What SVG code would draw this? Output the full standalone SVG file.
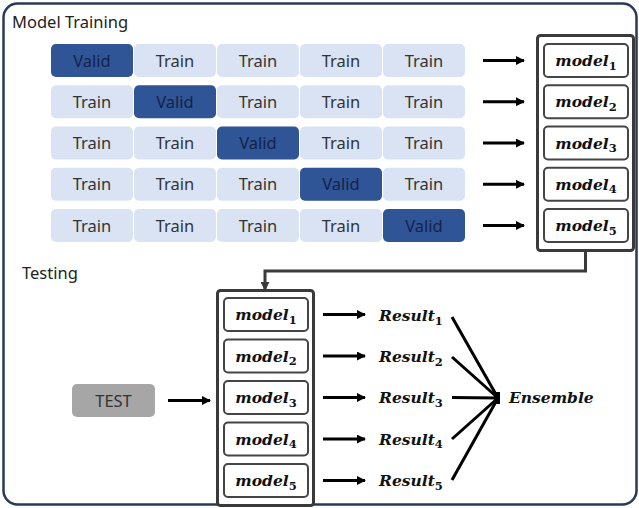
<svg xmlns="http://www.w3.org/2000/svg" width="639" height="508" viewBox="0 0 639 508">
  <defs>
    <style>
      .frame { fill: #ffffff; stroke: #2b3856; stroke-width: 2.5; }
      .title { font-family: "Noto Sans", "DejaVu Sans", sans-serif; font-size: 16.5px; fill: #222; }
      .train { fill: #dae3f3; }
      .valid { fill: #2f5597; }
      .ct { font-family: "Noto Sans", "DejaVu Sans", sans-serif; font-size: 16.5px; text-anchor: middle; fill: #333; }
      .cv { font-family: "Noto Sans", "DejaVu Sans", sans-serif; font-size: 16.5px; text-anchor: middle; fill: #14224a; }
      .stack { fill: #ffffff; stroke: #3a3a3a; stroke-width: 3; }
      .mbox { fill: #ffffff; stroke: #454545; stroke-width: 2; }
      .math { font-family: "DejaVu Serif", "Liberation Serif", serif; font-style: italic; font-weight: bold; font-size: 15.5px; fill: #111; }
      .mc { text-anchor: middle; }
      .sub { font-size: 11.5px; font-style: normal; }
      .arrow { stroke: #000; stroke-width: 3; fill: none; marker-end: url(#ah); }
      .line { stroke: #000; stroke-width: 3; fill: none; }
      .route { stroke: #3a3a3a; stroke-width: 3; fill: none; marker-end: url(#ahg); }
    </style>
    <marker id="ah" viewBox="0 0 10 10" refX="9" refY="5" markerWidth="3.2" markerHeight="3" markerUnits="strokeWidth" orient="auto">
      <path d="M0,0 L10,5 L0,10 z" fill="#000"/>
    </marker>
    <marker id="ahg" viewBox="0 0 10 10" refX="9" refY="5" markerWidth="3" markerHeight="3" markerUnits="strokeWidth" orient="auto">
      <path d="M0,0 L10,5 L0,10 z" fill="#3a3a3a"/>
    </marker>
  </defs>

  <rect width="639" height="508" fill="#ffffff"/>
  <rect class="frame" x="3.5" y="3.5" width="633" height="501" rx="14"/>

  <text class="title" x="12" y="28">Model Training</text>
  <text class="title" x="22" y="279">Testing</text>

  <!-- fold rows: one Valid cell per row -->
  <g id="fold1">
    <rect class="valid" x="51" y="44" width="82" height="33" rx="5"/><text class="cv" x="92" y="66.5">Valid</text>
    <rect class="train" x="134" y="44" width="82" height="33" rx="5"/><text class="ct" x="175" y="66.5">Train</text>
    <rect class="train" x="217" y="44" width="82" height="33" rx="5"/><text class="ct" x="258" y="66.5">Train</text>
    <rect class="train" x="300" y="44" width="82" height="33" rx="5"/><text class="ct" x="341" y="66.5">Train</text>
    <rect class="train" x="383" y="44" width="82" height="33" rx="5"/><text class="ct" x="424" y="66.5">Train</text>
  </g>
  <g id="fold2">
    <rect class="train" x="51" y="85.25" width="82" height="33" rx="5"/><text class="ct" x="92" y="107.75">Train</text>
    <rect class="valid" x="134" y="85.25" width="82" height="33" rx="5"/><text class="cv" x="175" y="107.75">Valid</text>
    <rect class="train" x="217" y="85.25" width="82" height="33" rx="5"/><text class="ct" x="258" y="107.75">Train</text>
    <rect class="train" x="300" y="85.25" width="82" height="33" rx="5"/><text class="ct" x="341" y="107.75">Train</text>
    <rect class="train" x="383" y="85.25" width="82" height="33" rx="5"/><text class="ct" x="424" y="107.75">Train</text>
  </g>
  <g id="fold3">
    <rect class="train" x="51" y="126.5" width="82" height="33" rx="5"/><text class="ct" x="92" y="149">Train</text>
    <rect class="train" x="134" y="126.5" width="82" height="33" rx="5"/><text class="ct" x="175" y="149">Train</text>
    <rect class="valid" x="217" y="126.5" width="82" height="33" rx="5"/><text class="cv" x="258" y="149">Valid</text>
    <rect class="train" x="300" y="126.5" width="82" height="33" rx="5"/><text class="ct" x="341" y="149">Train</text>
    <rect class="train" x="383" y="126.5" width="82" height="33" rx="5"/><text class="ct" x="424" y="149">Train</text>
  </g>
  <g id="fold4">
    <rect class="train" x="51" y="167.75" width="82" height="33" rx="5"/><text class="ct" x="92" y="190.25">Train</text>
    <rect class="train" x="134" y="167.75" width="82" height="33" rx="5"/><text class="ct" x="175" y="190.25">Train</text>
    <rect class="train" x="217" y="167.75" width="82" height="33" rx="5"/><text class="ct" x="258" y="190.25">Train</text>
    <rect class="valid" x="300" y="167.75" width="82" height="33" rx="5"/><text class="cv" x="341" y="190.25">Valid</text>
    <rect class="train" x="383" y="167.75" width="82" height="33" rx="5"/><text class="ct" x="424" y="190.25">Train</text>
  </g>
  <g id="fold5">
    <rect class="train" x="51" y="209" width="82" height="33" rx="5"/><text class="ct" x="92" y="231.5">Train</text>
    <rect class="train" x="134" y="209" width="82" height="33" rx="5"/><text class="ct" x="175" y="231.5">Train</text>
    <rect class="train" x="217" y="209" width="82" height="33" rx="5"/><text class="ct" x="258" y="231.5">Train</text>
    <rect class="train" x="300" y="209" width="82" height="33" rx="5"/><text class="ct" x="341" y="231.5">Train</text>
    <rect class="valid" x="383" y="209" width="82" height="33" rx="5"/><text class="cv" x="424" y="231.5">Valid</text>
  </g>

  <!-- trained model stack -->
  <g id="train-models">
    <rect class="stack" x="537.5" y="35.5" width="96" height="215" rx="3"/>
    <rect class="mbox" x="544" y="44" width="84" height="33" rx="4"/>
    <text class="math mc" x="586" y="66">model<tspan class="sub" dy="3.5">1</tspan></text>
    <rect class="mbox" x="544" y="85.25" width="84" height="33" rx="4"/>
    <text class="math mc" x="586" y="107.25">model<tspan class="sub" dy="3.5">2</tspan></text>
    <rect class="mbox" x="544" y="126.5" width="84" height="33" rx="4"/>
    <text class="math mc" x="586" y="148.5">model<tspan class="sub" dy="3.5">3</tspan></text>
    <rect class="mbox" x="544" y="167.75" width="84" height="33" rx="4"/>
    <text class="math mc" x="586" y="189.75">model<tspan class="sub" dy="3.5">4</tspan></text>
    <rect class="mbox" x="544" y="209" width="84" height="33" rx="4"/>
    <text class="math mc" x="586" y="231">model<tspan class="sub" dy="3.5">5</tspan></text>
  </g>

  <!-- testing model stack -->
  <g id="test-models">
    <rect class="stack" x="217.5" y="290.5" width="96" height="215" rx="3"/>
    <rect class="mbox" x="224" y="298" width="84" height="33" rx="4"/>
    <text class="math mc" x="266" y="320">model<tspan class="sub" dy="3.5">1</tspan></text>
    <rect class="mbox" x="224" y="339.5" width="84" height="33" rx="4"/>
    <text class="math mc" x="266" y="361.5">model<tspan class="sub" dy="3.5">2</tspan></text>
    <rect class="mbox" x="224" y="381" width="84" height="33" rx="4"/>
    <text class="math mc" x="266" y="403">model<tspan class="sub" dy="3.5">3</tspan></text>
    <rect class="mbox" x="224" y="422.5" width="84" height="33" rx="4"/>
    <text class="math mc" x="266" y="444.5">model<tspan class="sub" dy="3.5">4</tspan></text>
    <rect class="mbox" x="224" y="464" width="84" height="33" rx="4"/>
    <text class="math mc" x="266" y="486">model<tspan class="sub" dy="3.5">5</tspan></text>
  </g>

  <g id="test-input">
    <rect x="72" y="384" width="83" height="33" rx="5" fill="#a6a6a6"/>
    <text class="ct" x="113.5" y="406.5" fill="#222">TEST</text>
  </g>

  <g id="results">
    <text class="math" x="379" y="321">Result<tspan class="sub" dy="3.5">1</tspan></text>
    <text class="math" x="379" y="362">Result<tspan class="sub" dy="3.5">2</tspan></text>
    <text class="math" x="379" y="403">Result<tspan class="sub" dy="3.5">3</tspan></text>
    <text class="math" x="379" y="444.5">Result<tspan class="sub" dy="3.5">4</tspan></text>
    <text class="math" x="379" y="486">Result<tspan class="sub" dy="3.5">5</tspan></text>
  </g>

  <g id="ensemble">
    <text class="math" x="509" y="403">Ensemble</text>
  </g>

  <g id="connectors">
    <line class="arrow" x1="483" y1="60.5" x2="524" y2="60.5"/>
    <line class="arrow" x1="483" y1="101.75" x2="524" y2="101.75"/>
    <line class="arrow" x1="483" y1="143" x2="524" y2="143"/>
    <line class="arrow" x1="483" y1="184.25" x2="524" y2="184.25"/>
    <line class="arrow" x1="483" y1="225.5" x2="524" y2="225.5"/>
    <polyline class="route" points="585.5,250 585.5,271 265,271 265,290"/>
    <line class="arrow" x1="168" y1="400.5" x2="210" y2="400.5"/>
    <line class="arrow" x1="323" y1="314.5" x2="365" y2="314.5"/>
    <line class="arrow" x1="323" y1="356" x2="365" y2="356"/>
    <line class="arrow" x1="323" y1="397.5" x2="365" y2="397.5"/>
    <line class="arrow" x1="323" y1="439" x2="365" y2="439"/>
    <line class="arrow" x1="323" y1="480.5" x2="365" y2="480.5"/>
    <line class="line" x1="452" y1="317" x2="498" y2="398"/>
    <line class="line" x1="452" y1="357" x2="498" y2="398"/>
    <line class="line" x1="452" y1="397.5" x2="498" y2="398"/>
    <line class="line" x1="452" y1="439" x2="498" y2="398"/>
    <line class="line" x1="452" y1="480" x2="498" y2="398"/>
    <rect x="494" y="392" width="6" height="12" fill="#000"/>
  </g>
</svg>
